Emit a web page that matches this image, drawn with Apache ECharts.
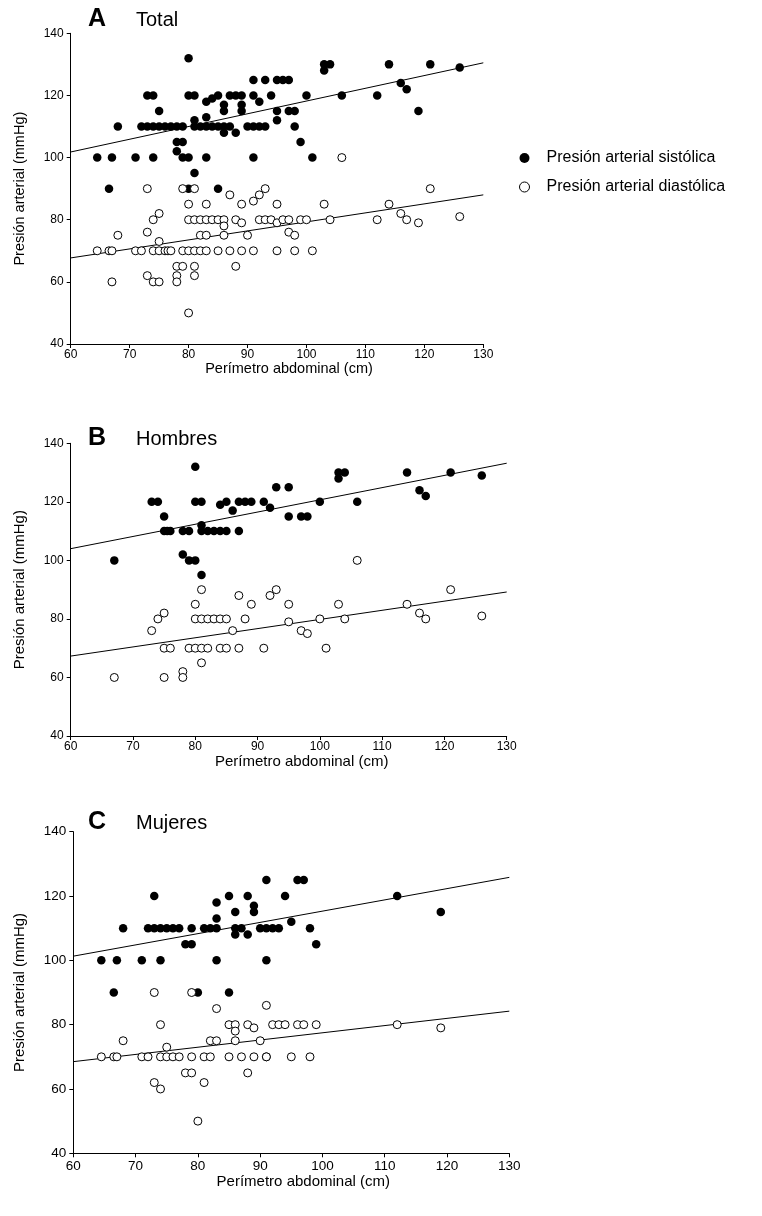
<!DOCTYPE html>
<html>
<head>
<meta charset="utf-8">
<script src="https://cdn.jsdelivr.net/npm/echarts@6/dist/echarts.min.js"></script>
<style>
html,body{margin:0;padding:0;background:#fff;}
#chart{width:762px;height:1216px;}
</style>
</head>
<body>
<div id="chart"></div>
<script>
// ---------- DATA ----------
const xTicks = [60, 70, 80, 90, 100, 110, 120, 130];
const yTicks = [40, 60, 80, 100, 120, 140];
const panelLetters = ['A', 'B', 'C'];
const panelTitles = ['Total', 'Hombres', 'Mujeres'];
const seriesNames = ['Presión arterial sistólica', 'Presión arterial diastólica'];

// Panel A: Total
const totalSys = [[80,132],
 [73,120],[74,120],[80,120],[81,120],[83,118],[84,119],[85,120],[87,120],[88,120],[89,120],[86,117],[86,115],[89,117],[89,115],[91,120],[92,118],[94,120],
 [91,125],[93,125],[95,125],[96,125],[97,125],
 [75,115],[95,115],[95,112],[97,115],[98,115],
 [68,110],[72,110],[73,110],[74,110],[75,110],[76,110],[77,110],[78,110],[79,110],
 [81,112],[81,110],[82,110],[83,110],[84,110],[85,110],[86,110],[87,110],[83,113],[86,108],[88,108],
 [90,110],[91,110],[92,110],[93,110],[98,110],
 [78,105],[79,105],[78,102],[99,105],
 [64.5,100],[67,100],[71,100],[74,100],[79,100],[80,100],[83,100],[91,100],[101,100],
 [81,95],[66.5,90],[80,90],[85,90],
 [100,120],[103,130],[104,130],[103,128],[106,120],[112,120],[114,130],[116,124],[117,122],[119,115],[121,130],[126,129]];
const totalDia = [[64.5,70],[66.5,70],[67,70],[67,60],[68,75],[71,70],[72,70],[73,90],[73,76],[73,62],[74,80],[75,82],[74,70],[75,70],[76,70],[76.5,70],[77,70],[75,73],[74,60],[75,60],
 [78,65],[79,65],[78,62],[78,60],[79,70],[80,70],[81,70],[82,70],[80,85],[79,90],[81,90],[80,80],[81,80],[82,80],[83,80],[84,80],[85,80],[86,80],
 [81,65],[81,62],[82,75],[83,75],[83,85],[83,70],[85,70],[86,78],[86,75],[87,88],[88,80],[88,65],[87,70],[89,70],[89,85],[89,79],[90,75],[91,86],[91,70],
 [92,88],[93,90],[92,80],[93,80],[94,80],[95,79],[95,85],[95,70],[96,80],[97,80],[97,76],[98,75],[99,80],[100,80],[98,70],[101,70],[103,85],[104,80],
 [106,100],[112,80],[114,85],[116,82],[117,80],[119,79],[121,90],[126,81],[80,50]];
const totalSysFit = [[60,101.8],[130,130.5]];
const totalDiaFit = [[60,67.7],[130,88]];

// Panel B: Hombres
const menSys = [[80,132],[73,120],[74,120],[80,120],[81,120],[84,119],[85,120],[86,117],[87,120],[88,120],[89,120],[91,120],[92,118],[93,125],[95,125],
 [75,115],[75,110],[75.5,110],[76,110],[78,110],[79,110],[81,112],[81,110],[82,110],[83,110],[84,110],[85,110],[87,110],
 [78,102],[79,100],[80,100],[67,100],[81,95],[95,115],[97,115],[98,115],[100,120],[103,130],[104,130],[103,128],[106,120],
 [114,130],[116,124],[117,122],[121,130],[126,129]];
const menDia = [[67,60],[73,76],[74,80],[75,82],[75,60],[75,70],[76,70],[78,62],[78,60],[79,70],[80,70],[81,70],[82,70],[81,65],[80,85],[81,90],
 [80,80],[81,80],[82,80],[83,80],[84,80],[85,80],[84,70],[85,70],[86,76],[87,88],[87,70],[88,80],[89,85],[91,70],[92,88],[93,90],[95,85],[95,79],
 [97,76],[98,75],[100,80],[101,70],[103,85],[104,80],[106,100],[114,85],[116,82],[117,80],[121,90],[126,81]];
const menSysFit = [[60,104],[130,133.2]];
const menDiaFit = [[60,67.3],[130,89.2]];

// Panel C: Mujeres
const womenSys = [[64.5,100],[67,100],[71,100],[74,100],[68,110],[73,120],[72,110],[73,110],[74,110],[75,110],[76,110],[77,110],[78,105],[79,105],[79,110],
 [81,110],[82,110],[83,110],[83,118],[83,113],[83,100],[85,120],[85,90],[86,115],[86,110],[87,110],[86,108],[88,120],[88,108],[89,117],[89,115],
 [90,110],[91,110],[92,110],[93,110],[91,125],[91,100],[94,120],[95,112],[66.5,90],[80,90],[96,125],[97,125],[98,110],[99,105],[112,120],[119,115]];
const womenDia = [[64.5,70],[66.5,70],[67,70],[68,75],[71,70],[72,70],[73,90],[73,62],[74,80],[74,60],[74,70],[75,70],[76,70],[77,70],[75,73],
 [78,65],[79,65],[79,90],[79,70],[80,50],[81,70],[82,70],[81,62],[82,75],[83,75],[83,85],[85,80],[86,80],[86,78],[86,75],[85,70],[87,70],
 [88,80],[88,65],[89,79],[89,70],[90,75],[91,86],[91,70],[91,70],[92,80],[93,80],[94,80],[95,70],[96,80],[97,80],[99,80],[98,70],[112,80],[119,79]];
const womenSysFit = [[60,101.3],[130,125.8]];
const womenDiaFit = [[60,68.5],[130,84.2]];

// ---------- CHART ----------
const FONT = 'Arial, "Liberation Sans", sans-serif';
const panels = [
  {sys: totalSys, dia: totalDia, sysFit: totalSysFit, diaFit: totalDiaFit},
  {sys: menSys, dia: menDia, sysFit: menSysFit, diaFit: menDiaFit},
  {sys: womenSys, dia: womenDia, sysFit: womenSysFit, diaFit: womenDiaFit}
];
const grids = [
  {left: 70.7, top: 33.3, width: 412.6, height: 310.7},
  {left: 70.7, top: 443.3, width: 436, height: 292.7},
  {left: 73.3, top: 831.7, width: 436, height: 321.6}
];
const titlePos = [[88, 7], [88, 426], [88, 810]];
const labelSize = [12, 12, 13.5];
const xLabelMargin = [5, 5, 6];
const nameSize = [14.5, 15, 15];
const xNameGap = [16, 16, 19];
const yNameGap = [43, 43, 46];
const xNameShift = [24, 26, 24];

const xAxes = [], yAxes = [], series = [], graphics = [];
grids.forEach((g, i) => {
  const common = {
    axisLine: {show: true, onZero: false, lineStyle: {color: '#000', width: 1}},
    axisTick: {show: true, inside: false, length: 4, lineStyle: {color: '#000'}},
    axisLabel: {color: '#000', fontSize: labelSize[i], fontFamily: FONT, margin: xLabelMargin[i]},
    splitLine: {show: false},
    nameLocation: 'middle'
  };
  xAxes.push(Object.assign({}, common, {
    gridIndex: i, type: 'value', min: xTicks[0], max: xTicks[xTicks.length-1], interval: 10,
    name: 'Perímetro abdominal (cm)', nameGap: xNameGap[i],
    nameTextStyle: {color: '#000', fontSize: nameSize[i], fontFamily: FONT, padding: [0, 0, 0, xNameShift[i]]}
  }));
  yAxes.push(Object.assign({}, common, {
    gridIndex: i, type: 'value', min: yTicks[0], max: yTicks[yTicks.length-1], interval: 20,
    name: 'Presión arterial (mmHg)', nameGap: yNameGap[i],
    nameTextStyle: {color: '#000', fontSize: nameSize[i], fontFamily: FONT},
    axisLabel: Object.assign({}, common.axisLabel, {margin: 7})
  }));
  const p = panels[i];
  series.push({
    name: seriesNames[0], type: 'scatter', xAxisIndex: i, yAxisIndex: i, data: p.sys,
    symbol: 'circle', symbolSize: 8.5, itemStyle: {color: '#000', opacity: 1}, z: 3
  });
  series.push({
    name: seriesNames[1], type: 'scatter', xAxisIndex: i, yAxisIndex: i, data: p.dia,
    symbol: 'circle', symbolSize: 8, itemStyle: {color: '#fff', borderColor: '#000', borderWidth: 1, opacity: 1}, z: 3
  });
  series.push({
    type: 'line', xAxisIndex: i, yAxisIndex: i, data: p.sysFit, showSymbol: false, silent: true,
    lineStyle: {color: '#000', width: 1}, z: 2
  });
  series.push({
    type: 'line', xAxisIndex: i, yAxisIndex: i, data: p.diaFit, showSymbol: false, silent: true,
    lineStyle: {color: '#000', width: 1}, z: 2
  });
  graphics.push({
    type: 'text', left: titlePos[i][0], top: titlePos[i][1],
    style: {text: panelLetters[i], font: 'bold 25px ' + FONT, fill: '#000'}
  });
  graphics.push({
    type: 'text', left: titlePos[i][0] + 48, top: titlePos[i][1] + 3,
    style: {text: panelTitles[i], font: '20px ' + FONT, fill: '#000'}
  });
});

const chart = echarts.init(document.getElementById('chart'), null, {renderer: 'canvas'});
chart.setOption({
  animation: false,
  backgroundColor: '#fff',
  grid: grids.map(g => Object.assign({containLabel: false}, g)),
  xAxis: xAxes,
  yAxis: yAxes,
  series: series,
  graphic: graphics,
  legend: {
    orient: 'vertical', left: 514, top: 145, itemGap: 13, itemWidth: 10, itemHeight: 10,
    data: [
      {name: seriesNames[0], icon: 'circle', itemStyle: {color: '#000'}},
      {name: seriesNames[1], icon: 'circle', itemStyle: {color: '#fff', borderColor: '#000', borderWidth: 1}}
    ],
    textStyle: {color: '#000', fontSize: 16, fontFamily: FONT, padding: [0, 0, 0, 12]},
    selectedMode: false
  }
});
</script>
</body>
</html>
